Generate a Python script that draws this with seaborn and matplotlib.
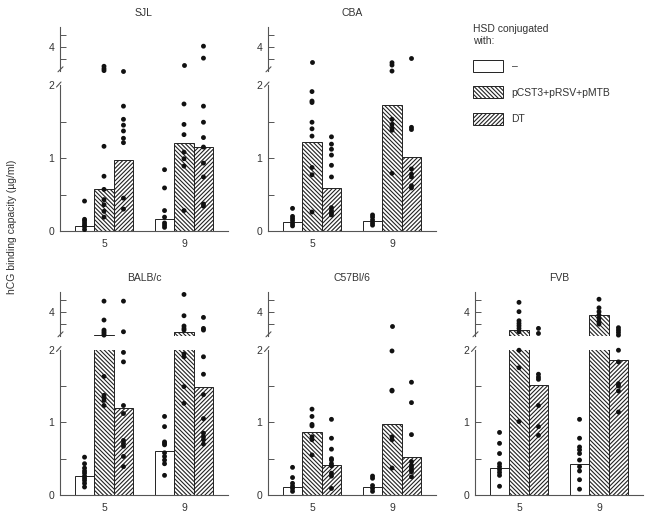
import itertools
import numpy as np
import pandas as pd
import seaborn as sns
import matplotlib.pyplot as plt
from matplotlib.patches import Patch

sns.set_style("ticks")
plt.rcParams["font.family"] = ["Liberation Sans", "DejaVu Sans"]
plt.rcParams["hatch.linewidth"] = 0.8
plt.rcParams["text.color"] = "#333333"

weeks = ["5", "9"]
conjugates = ["–", "pCST3+pRSV+pMTB", "DT"]
hatches = ["", "\\" * 8, "/" * 8]

# bar heights in order: week 5 (-, pCST3.., DT), week 9 (-, pCST3.., DT)
sjl_bars = [0.07, 0.57, 0.97, 0.16, 1.20, 1.15]
cba_bars = [0.13, 1.22, 0.59, 0.135, 1.72, 1.01]
balbc_bars = [0.26, 3.04, 1.19, 0.60, 3.19, 1.48]
c57_bars = [0.11, 0.86, 0.41, 0.11, 0.98, 0.52]
fvb_bars = [0.37, 3.26, 1.51, 0.43, 3.89, 1.85]

# individual mice, same order as the bars
sjl_dots = [
    [0.41, 0.16, 0.14, 0.11, 0.08, 0.06, 0.02],
    [3.21, 3.11, 3.03, 1.16, 0.75, 0.57, 0.43, 0.36, 0.27, 0.19],
    [3.03, 1.71, 1.53, 1.45, 1.37, 1.27, 1.21, 0.45, 0.30],
    [0.84, 0.59, 0.28, 0.19, 0.11, 0.08, 0.05],
    [3.26, 1.74, 1.46, 1.32, 1.08, 0.99, 0.89, 0.28],
    [4.05, 3.55, 1.71, 1.49, 1.28, 1.15, 0.93, 0.74, 0.37, 0.34],
]
cba_dots = [
    [0.31, 0.20, 0.17, 0.14, 0.10, 0.07],
    [3.38, 1.91, 1.78, 1.76, 1.49, 1.40, 1.30, 0.87, 0.77, 0.26],
    [1.29, 1.19, 1.12, 1.04, 0.90, 0.74, 0.32, 0.28, 0.25, 0.22],
    [0.22, 0.19, 0.15, 0.11, 0.08],
    [3.36, 3.26, 3.01, 1.53, 1.46, 1.41, 1.38, 0.79],
    [3.54, 1.42, 1.39, 0.85, 0.78, 0.74, 0.62, 0.59],
]
balbc_dots = [
    [0.52, 0.43, 0.37, 0.33, 0.30, 0.26, 0.23, 0.20, 0.16, 0.11],
    [4.47, 3.68, 3.26, 3.19, 3.12, 3.05, 1.63, 1.37, 1.34, 1.30, 1.23],
    [4.47, 3.19, 1.96, 1.83, 1.23, 1.12, 0.75, 0.71, 0.67, 0.53, 0.39],
    [1.08, 0.94, 0.73, 0.71, 0.69, 0.58, 0.53, 0.48, 0.43, 0.27],
    [4.75, 3.86, 3.43, 3.33, 3.26, 1.94, 1.90, 1.49, 1.26],
    [3.79, 3.33, 3.26, 1.90, 1.66, 1.38, 1.05, 0.85, 0.80, 0.76, 0.70],
]
c57_dots = [
    [0.38, 0.24, 0.16, 0.12, 0.09, 0.05],
    [1.18, 1.08, 0.97, 0.95, 0.80, 0.76, 0.55],
    [1.04, 0.78, 0.63, 0.50, 0.48, 0.43, 0.40, 0.30, 0.26, 0.09],
    [0.26, 0.23, 0.13, 0.09, 0.05],
    [3.44, 1.98, 1.44, 1.43, 0.80, 0.76, 0.37],
    [1.55, 1.27, 0.83, 0.46, 0.41, 0.38, 0.35, 0.32, 0.25],
]
fvb_dots = [
    [0.86, 0.71, 0.57, 0.43, 0.39, 0.35, 0.31, 0.27, 0.12],
    [4.42, 4.03, 3.65, 3.54, 3.44, 3.33, 3.19, 1.99, 1.75, 1.01],
    [3.33, 3.12, 1.66, 1.62, 1.59, 1.23, 0.94, 0.82],
    [1.04, 0.78, 0.66, 0.62, 0.57, 0.48, 0.39, 0.33, 0.21, 0.08],
    [4.55, 4.19, 4.03, 3.89, 3.75, 3.61, 3.51],
    [3.36, 3.26, 3.16, 3.05, 1.99, 1.83, 1.53, 1.50, 1.43, 1.14],
]

panels = [
    ("SJL", sjl_bars, sjl_dots, 0, 0),
    ("CBA", cba_bars, cba_dots, 0, 1),
    ("BALB/c", balbc_bars, balbc_dots, 1, 0),
    ("C57Bl/6", c57_bars, c57_dots, 1, 1),
    ("FVB", fvb_bars, fvb_dots, 1, 2),
]

W, H = 651, 520
fig = plt.figure(figsize=(W / 100, H / 100), dpi=100)
BAR_W = 0.73
SPINE = "#555555"


def style_axis(ax):
    ax.set_xlabel("")
    ax.set_ylabel("")
    ax.set_xlim(-0.55, 1.55)
    for s in ax.spines.values():
        s.set_color(SPINE)
        s.set_linewidth(0.8)
    ax.tick_params(axis="y", direction="in", length=4, width=0.7, color=SPINE,
                   labelcolor="#333333", labelsize=7.5, pad=4)


def break_mark(ax, w_px, h_px, x0, y0, x1, y1):
    # coordinates in pixels relative to the axes' lower-left corner
    ax.plot([x0 / w_px, x1 / w_px], [y0 / h_px, y1 / h_px], transform=ax.transAxes,
            color=SPINE, lw=0.8, clip_on=False)


for name, bars, dots, row, col in panels:
    bar_df = pd.DataFrame({"week": np.repeat(weeks, 3), "conj": conjugates * 2, "value": bars})
    rows = []
    for (w, c), vals in zip(itertools.product(weeks, conjugates), dots):
        rows += [(w, c, v) for v in vals]
    dot_df = pd.DataFrame(rows, columns=["week", "conj", "value"])

    left = [60, 268, 475][col] / W
    width = 168 / W
    if row == 0:
        lo_bottom, lo_h, up_bottom = 231, 146, 71.3
    else:
        lo_bottom, lo_h, up_bottom = 495, 145.5, 336.3
    up_h = 44
    ax_lo = fig.add_axes([left, 1 - lo_bottom / H, width, lo_h / H])
    ax_up = fig.add_axes([left, 1 - up_bottom / H, width, up_h / H])

    for ax, part in [(ax_lo, dot_df[dot_df.value <= 2]), (ax_up, dot_df[dot_df.value > 2])]:
        sns.barplot(data=bar_df, x="week", y="value", hue="conj", order=weeks,
                    hue_order=conjugates, palette=["white"] * 3, edgecolor="#222222",
                    linewidth=0.7, width=BAR_W, errorbar=None, legend=False, ax=ax)
        for cont, h in zip(ax.containers, hatches):
            for p in cont:
                p.set_hatch(h)
        n0 = len(ax.collections)
        if len(part):
            sns.stripplot(data=part, x="week", y="value", hue="conj", order=weeks,
                          hue_order=conjugates, palette=["#111111"] * 3, dodge=True,
                          jitter=False, size=3.5, legend=False, ax=ax, clip_on=False, zorder=5)
        # stripplot dodges over a 0.8 wide group; pull dots onto the narrower bars
        for coll in ax.collections[n0:]:
            off = coll.get_offsets()
            if len(off):
                c = np.round(off[:, 0])
                off[:, 0] = c + (off[:, 0] - c) * BAR_W / 0.8
                coll.set_offsets(off)
        style_axis(ax)

    sns.despine(ax=ax_lo)
    ax_lo.set_ylim(0, 2)
    ax_lo.set_yticks([0, 0.5, 1, 1.5, 2])
    ax_lo.set_yticklabels(["0", "", "1", "", "2"])
    ax_lo.yaxis.get_major_ticks()[-1].tick1line.set_visible(False)
    ax_lo.tick_params(axis="x", length=0, pad=6, labelsize=7.5, labelcolor="#333333")

    for s in ["top", "right", "bottom"]:
        ax_up.spines[s].set_visible(False)
    ax_up.set_ylim(3.0, 4.84)
    ax_up.set_yticks([3.5, 4, 4.5])
    ax_up.set_yticklabels(["", "4", ""])
    ax_up.set_xticks([])
    ax_up.set_title(name, fontsize=7.5, pad=8, color="#333333")

    break_mark(ax_lo, 168, lo_h, -3.5, lo_h - 2, 1.0, lo_h + 3)
    break_mark(ax_up, 168, up_h, -2.0, -0.5, 3.0, 4.5)

fig.text(12 / W, 1 - 227 / H, "hCG binding capacity (µg/ml)", rotation=90,
         ha="center", va="center", fontsize=7.5)

handles = [Patch(facecolor="white", edgecolor="#222222", linewidth=0.7, hatch=h) for h in hatches]
fig.legend(handles, conjugates, loc="upper left", bbox_to_anchor=(473 / W, 1 - 24 / H),
           frameon=False, title="HSD conjugated\nwith:", title_fontsize=7.5, fontsize=7.5,
           handlelength=2.9, handleheight=1.45, labelspacing=1.35, handletextpad=0.8,
           alignment="left", borderaxespad=0, borderpad=0)

fig.savefig("out.png", dpi=100)
